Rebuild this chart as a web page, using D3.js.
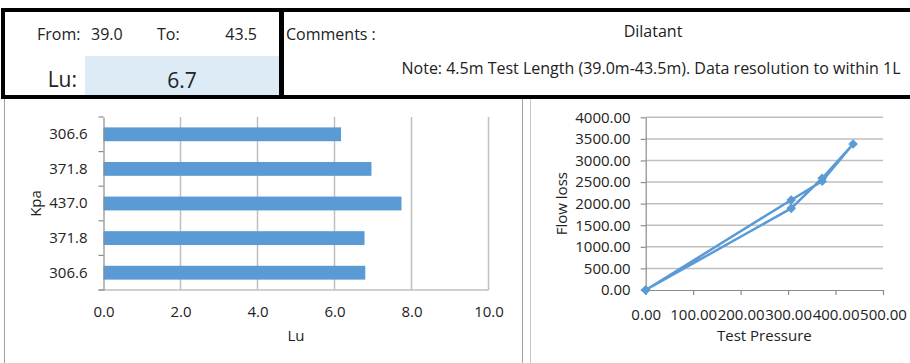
<!DOCTYPE html>
<html>
<head>
<meta charset="utf-8">
<script src="https://cdn.jsdelivr.net/npm/d3@7"></script>
<style>
  body { margin: 0; background: #fff; }
  text { font-family: "Open Sans", sans-serif; fill: #222; }
</style>
</head>
<body>
<div id="chart"></div>
<script>
// page size
var w = 910;
var h = 363;

// header values
var fromDepth = "39.0";
var toDepth = "43.5";
var luAverage = "6.7";
var comment = "Dilatant";
var note = "Note: 4.5m Test Length (39.0m-43.5m). Data resolution to within 1L";

// stages (in test order, first stage drawn at the bottom of the bar chart)
var stagePressure = ["306.6", "371.8", "437.0", "371.8", "306.6"];
var stageLu = [6.80, 6.78, 7.74, 6.96, 6.17];

// flow loss vs test pressure (loop from zero and back)
var linePressure = [0, 306.6, 371.8, 437.0, 371.8, 306.6, 0];
var lineFlow = [0, 2085, 2521, 3382, 2588, 1892, 0];

// tick labels
var luTicks = [0, 2, 4, 6, 8, 10];
var flowTicks = [0, 500, 1000, 1500, 2000, 2500, 3000, 3500, 4000];
var pressureTicks = [0, 100, 200, 300, 400, 500];

var blue = "#5b9bd5";
var gridColor = "#bfbfbf";
var axisColor = "#8c8c8c";

var svg = d3.select("#chart")
    .append("svg")
    .attr("width", w)
    .attr("height", h);

// ---------- header frame ----------
svg.append("rect").attr("x", 85).attr("y", 56).attr("width", 194).attr("height", 39)
    .attr("fill", "#ddebf7");

// black borders
svg.append("rect").attr("x", 1).attr("y", 8).attr("width", w - 1).attr("height", 4).attr("fill", "#000");
svg.append("rect").attr("x", 1).attr("y", 95).attr("width", w - 1).attr("height", 4).attr("fill", "#000");
svg.append("rect").attr("x", 1).attr("y", 8).attr("width", 4).attr("height", 91).attr("fill", "#000");
svg.append("rect").attr("x", 279).attr("y", 8).attr("width", 5).attr("height", 91).attr("fill", "#000");

// panel borders below
svg.append("line").attr("x1", 4.5).attr("x2", 4.5).attr("y1", 99).attr("y2", h)
    .attr("stroke", "#a0a0a0");
svg.append("line").attr("x1", 522.5).attr("x2", 522.5).attr("y1", 99).attr("y2", h)
    .attr("stroke", "#a0a0a0");
svg.append("line").attr("x1", 530.5).attr("x2", 530.5).attr("y1", 99).attr("y2", h)
    .attr("stroke", "#c8c8c8");

svg.append("text").attr("x", 37).attr("y", 40).style("font-size", "16px").text("From:");
svg.append("text").attr("x", 91).attr("y", 40).style("font-size", "16px").text(fromDepth);
svg.append("text").attr("x", 157).attr("y", 40).style("font-size", "16px").text("To:");
svg.append("text").attr("x", 257).attr("y", 40).attr("text-anchor", "end").style("font-size", "16px").text(toDepth);
svg.append("text").attr("x", 77).attr("y", 87).attr("text-anchor", "end").style("font-size", "21px").text("Lu:");
svg.append("text").attr("x", 182).attr("y", 88).attr("text-anchor", "middle").style("font-size", "21px").text(luAverage);
svg.append("text").attr("x", 286).attr("y", 40).style("font-size", "16px").text("Comments :");
svg.append("text").attr("x", 653).attr("y", 37).attr("text-anchor", "middle").style("font-size", "16px").text(comment);
svg.append("text").attr("x", 651).attr("y", 74).attr("text-anchor", "middle").style("font-size", "16px").text(note);

// ---------- bar chart ----------
var bx0 = 103.5, bx1 = 488.5, byTop = 117, byBot = 290;

var xScale = d3.scaleLinear().domain([0, 10]).range([bx0, bx1]);
var idx = d3.range(stageLu.length);
var yBand = d3.scaleBand().domain(idx).range([byBot, byTop]).paddingInner(0.6).paddingOuter(0.3);
var yCell = d3.scaleBand().domain(idx).range([byBot, byTop]);

var bar = svg.append("g");

// vertical gridlines
bar.selectAll(".vgrid")
   .data(luTicks.slice(1))
   .enter()
   .append("line")
   .attr("x1", function(d) { return xScale(d); })
   .attr("x2", function(d) { return xScale(d); })
   .attr("y1", byTop)
   .attr("y2", byBot)
   .attr("stroke", gridColor)
   .attr("stroke-width", 1.5);

// bars
bar.selectAll("rect")
   .data(stageLu)
   .enter()
   .append("rect")
   .attr("x", xScale(0))
   .attr("y", function(d, i) { return yBand(i); })
   .attr("width", function(d) { return xScale(d) - xScale(0); })
   .attr("height", yBand.bandwidth())
   .attr("fill", blue);

// x axis line at bottom + labels
var xAxis = d3.axisBottom(xScale)
    .tickValues(luTicks)
    .tickSize(0)
    .tickFormat(d3.format(".1f"));
var gx = bar.append("g").attr("transform", "translate(0," + byBot + ")").call(xAxis);
gx.select(".domain").attr("stroke", gridColor).attr("stroke-width", 1.5).attr("d", "M" + (bx0 - 5) + ",0H" + bx1);
gx.selectAll("text").attr("y", 16).style("font-size", "15px").style("font-family", "Open Sans").attr("fill", "#222");

// y axis with tick marks between categories
var yAxis = d3.axisLeft(yBand)
    .tickSize(0)
    .tickPadding(16)
    .tickFormat(function(i) { return stagePressure[i]; });
var gy = bar.append("g").attr("transform", "translate(" + bx0 + ",0)").call(yAxis);
gy.select(".domain").attr("stroke", axisColor).attr("stroke-width", 1.2);
gy.selectAll("text").style("font-size", "15px").style("font-family", "Open Sans").attr("fill", "#222");

var bounds = idx.map(function(i) { return yCell(i); }).concat([byBot]);
bar.selectAll(".ytick")
   .data(bounds)
   .enter()
   .append("line")
   .attr("x1", bx0 - 5)
   .attr("x2", bx0)
   .attr("y1", function(d) { return d; })
   .attr("y2", function(d) { return d; })
   .attr("stroke", axisColor)
   .attr("stroke-width", 1.2);

bar.append("text").attr("x", (bx0 + bx1) / 2).attr("y", 341).attr("text-anchor", "middle")
    .style("font-size", "15px").text("Lu");
bar.append("text").attr("transform", "translate(40.5," + (byTop + byBot) / 2 + ") rotate(-90)")
    .attr("text-anchor", "middle").style("font-size", "15px").text("Kpa");

// ---------- line chart ----------
var lx0 = 645.7, lx1 = 883, lyTop = 117.3, lyBot = 290;

var pScale = d3.scaleLinear().domain([0, 500]).range([lx0, lx1]);
var fScale = d3.scaleLinear().domain([0, 4000]).range([lyBot, lyTop]);

var lc = svg.append("g");

lc.selectAll(".hgrid")
  .data(flowTicks.slice(1))
  .enter()
  .append("line")
  .attr("x1", lx0)
  .attr("x2", lx1)
  .attr("y1", function(d) { return fScale(d); })
  .attr("y2", function(d) { return fScale(d); })
  .attr("stroke", gridColor)
  .attr("stroke-width", 1.5);

var pAxis = d3.axisBottom(pScale)
    .tickValues(pressureTicks)
    .tickSize(5)
    .tickSizeOuter(0)
    .tickFormat(d3.format(".2f"));
var gpx = lc.append("g").attr("transform", "translate(0," + lyBot + ")").call(pAxis);
gpx.selectAll("line, .domain").attr("stroke", axisColor).attr("stroke-width", 1.2);
gpx.selectAll("text").attr("y", 19).style("font-size", "15px").style("font-family", "Open Sans").attr("fill", "#222");

var fAxis = d3.axisLeft(fScale)
    .tickValues(flowTicks)
    .tickSize(5)
    .tickSizeOuter(0)
    .tickPadding(10)
    .tickFormat(d3.format(".2f"));
var gfy = lc.append("g").attr("transform", "translate(" + lx0 + ",0)").call(fAxis);
gfy.selectAll("line, .domain").attr("stroke", axisColor).attr("stroke-width", 1.2);
gfy.selectAll("text").style("font-size", "15px").style("font-family", "Open Sans").attr("fill", "#222");

var pts = linePressure.map(function(p, i) { return [p, lineFlow[i]]; });

var line = d3.line()
    .x(function(d) { return pScale(d[0]); })
    .y(function(d) { return fScale(d[1]); });

lc.append("path")
  .datum(pts)
  .attr("d", line)
  .attr("fill", "none")
  .attr("stroke", blue)
  .attr("stroke-width", 2.5)
  .attr("stroke-linejoin", "round");

var diamond = d3.symbol().type(d3.symbolSquare).size(34);
lc.selectAll(".mark")
  .data(pts)
  .enter()
  .append("path")
  .attr("d", diamond)
  .attr("transform", function(d) {
      return "translate(" + pScale(d[0]) + "," + fScale(d[1]) + ") rotate(45)";
  })
  .attr("fill", blue)
  .attr("stroke", blue);

lc.append("text").attr("x", (lx0 + lx1) / 2).attr("y", 341).attr("text-anchor", "middle")
    .style("font-size", "15px").text("Test Pressure");
lc.append("text").attr("transform", "translate(567," + (lyTop + lyBot) / 2 + ") rotate(-90)")
    .attr("text-anchor", "middle").style("font-size", "15px").text("Flow loss");
</script>
</body>
</html>
